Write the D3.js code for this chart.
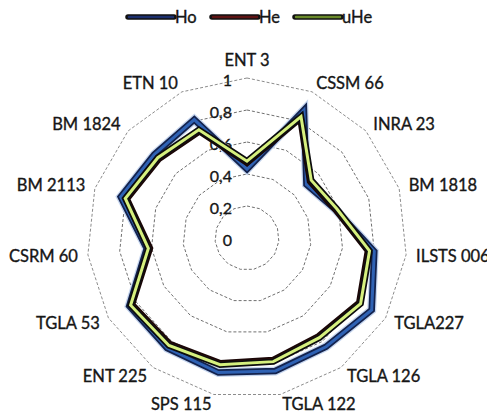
<!DOCTYPE html>
<html>
<head>
<meta charset="utf-8">
<script src="https://cdn.jsdelivr.net/npm/d3@7/dist/d3.min.js"></script>
<style>
  body { margin: 0; background: #fff; }
  text { font-family: Lato, "Open Sans", sans-serif; fill: #161616; stroke: #161616; stroke-width: 0.35px; }
</style>
</head>
<body>
<div id="chart"></div>
<script>
// loci on the spokes, clockwise from the top
const loci = ["ENT 3", "CSSM 66", "INRA 23", "BM 1818", "ILSTS 006", "TGLA227", "TGLA 126",
    "TGLA 122", "SPS 115", "ENT 225", "TGLA 53", "CSRM 60", "BM 2113", "BM 1824", "ETN 10"];
const ho  = [0.43, 0.875, 0.50, 0.58, 0.80, 0.90, 0.84, 0.85, 0.86, 0.85, 0.85, 0.63, 0.83, 0.78, 0.81];
const he  = [0.47, 0.82, 0.53, 0.58, 0.76, 0.81, 0.76, 0.78, 0.80, 0.82, 0.83, 0.61, 0.79, 0.74, 0.73];
const uhe = [0.48, 0.83, 0.54, 0.59, 0.77, 0.82, 0.77, 0.79, 0.81, 0.83, 0.84, 0.62, 0.80, 0.75, 0.74];
const ticks = [0, 0.2, 0.4, 0.6, 0.8, 1];
const tickLabels = ["0", "0,2", "0,4", "0,6", "0,8", "1"];
const seriesNames = ["Ho", "He", "uHe"];

const width = 487, height = 414;
const cx = 247, cy = 238, R = 160;

const svg = d3.select("#chart").append("svg")
    .attr("width", width)
    .attr("height", height);

const g = svg.append("g").attr("transform", `translate(${cx},${cy})`);

const r = d3.scaleLinear().domain([0, 1]).range([0, R]);
const angle = d3.scaleLinear().domain([0, loci.length]).range([0, 2 * Math.PI]);

// grid rings (polygons)
const ring = d3.lineRadial()
    .angle((d, i) => angle(i))
    .radius(d => r(d))
    .curve(d3.curveLinearClosed);

g.selectAll("path.grid")
    .data(ticks.filter(t => t > 0))
    .enter()
    .append("path")
    .attr("class", "grid")
    .attr("d", t => ring(loci.map(() => t)))
    .attr("fill", "none")
    .attr("stroke", t => t == 1 ? "#8c8c8c" : "#707070")
    .attr("stroke-width", 1)
    .attr("stroke-dasharray", "3,2");

// tick labels left of the vertical spoke
g.selectAll("text.tick")
    .data(ticks)
    .enter()
    .append("text")
    .attr("class", "tick")
    .attr("x", -15)
    .attr("y", t => -r(t) + 1)
    .attr("text-anchor", "end")
    .attr("dominant-baseline", "central")
    .style("font-size", "16px")
    .text((t, i) => tickLabels[i]);

// spoke labels
g.selectAll("text.locus")
    .data(loci)
    .enter()
    .append("text")
    .attr("class", "locus")
    .attr("x", (d, i) => Math.sin(angle(i)) * (R + 10))
    .attr("y", (d, i) => -Math.cos(angle(i)) * (R + 10) - (i == 0 ? 8 : 0))
    .attr("text-anchor", (d, i) => {
        let s = Math.sin(angle(i));
        if (Math.abs(s) < 0.01) return "middle";
        return s > 0 ? "start" : "end";
    })
    .attr("dominant-baseline", "central")
    .style("font-size", "16.5px")
    .text(d => d);

// series
const line = d3.lineRadial()
    .angle((d, i) => angle(i))
    .radius(d => r(d))
    .curve(d3.curveLinearClosed);

const styles = [
    { data: ho,  halo: "#c6d6ef", edge: "#13224d", core: "#2f62b4" },
    { data: he,  halo: null,      edge: "#1a0606", core: "#7a1515" },
    { data: uhe, halo: null,      edge: "#0d0d0d", core: "#d6f07e" }
];

styles.forEach(s => {
    if (s.halo) {
        g.append("path")
            .attr("d", line(s.data))
            .attr("fill", "none")
            .attr("stroke", s.halo)
            .attr("stroke-width", 9)
            .attr("stroke-linejoin", "miter");
    }
    g.append("path")
        .attr("d", line(s.data))
        .attr("fill", "none")
        .attr("stroke", s.edge)
        .attr("stroke-width", 6.5)
        .attr("stroke-linejoin", "miter");
    g.append("path")
        .attr("d", line(s.data))
        .attr("fill", "none")
        .attr("stroke", s.core)
        .attr("stroke-width", 3)
        .attr("stroke-linejoin", "miter");
});

// legend
const legendX = [128, 212, 295];
const legendColors = ["#1c2f6e", "#5e1414", "#6a8a2a"];
const legend = svg.append("g");
seriesNames.forEach((name, i) => {
    let lg = legend.append("g").attr("transform", `translate(${legendX[i]},17)`);
    lg.append("line")
        .attr("x1", 0).attr("x2", 46)
        .attr("stroke", "#111").attr("stroke-width", 5.5)
        .attr("stroke-linecap", "round");
    lg.append("line")
        .attr("x1", 1).attr("x2", 45)
        .attr("stroke", legendColors[i]).attr("stroke-width", 2.5)
        .attr("stroke-linecap", "round");
    lg.append("text")
        .attr("x", 47)
        .attr("y", 0)
        .attr("dominant-baseline", "central")
        .style("font-size", "16.5px")
        .text(name);
});
</script>
</body>
</html>
